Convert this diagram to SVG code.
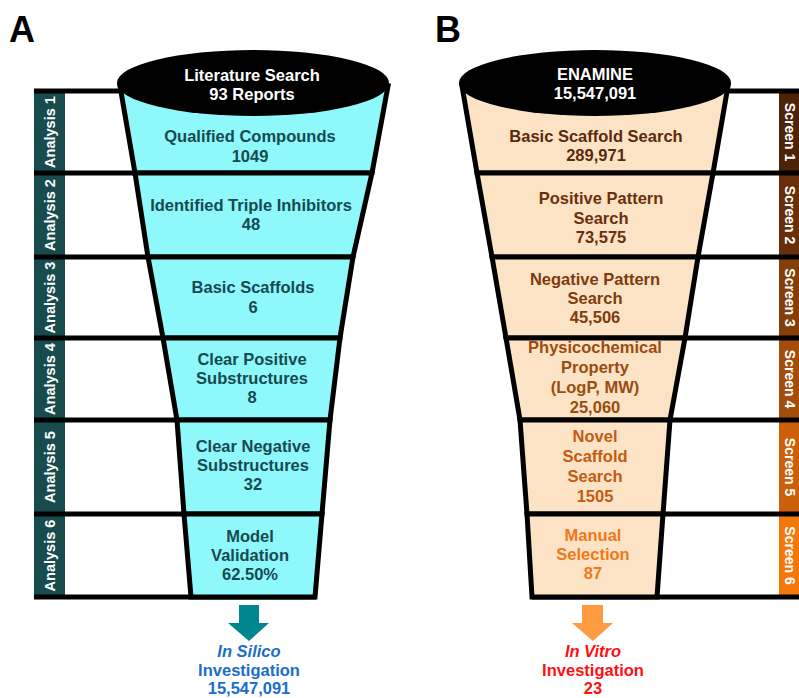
<svg xmlns="http://www.w3.org/2000/svg" width="799" height="698" viewBox="0 0 799 698">
<style>
text{font-family:"Liberation Sans",Arial,sans-serif;font-weight:bold;text-anchor:middle}
.t{font-size:16.5px}
.ta{fill:#174a50}
.big{font-size:36px;fill:#000;text-anchor:start}
.lbl{font-size:14.5px;fill:#fff}
.scr{font-size:14px;fill:#fff}
.hd{font-size:16.5px;fill:#fff}
.fa{fill:#8ef8fb;stroke:#000;stroke-width:5;stroke-linejoin:miter}
.fb{fill:#fde3c6;stroke:#000;stroke-width:5;stroke-linejoin:miter}
.ln{stroke:#000;stroke-width:5;fill:none}
</style>
<rect width="799" height="698" fill="#fff"/>
<text class="big" x="9" y="42">A</text>
<text class="big" x="435" y="42">B</text>

<!-- Panel A frame -->
<g id="frameA">
<rect x="34" y="91" width="31" height="506" fill="#184b4d"/>
<line class="ln" x1="34" y1="91" x2="122" y2="91"/>
<line class="ln" x1="34" y1="173" x2="372" y2="173"/>
<line class="ln" x1="34" y1="257" x2="353" y2="257"/>
<line class="ln" x1="34" y1="338" x2="340" y2="338"/>
<line class="ln" x1="34" y1="420" x2="330" y2="420"/>
<line class="ln" x1="34" y1="514" x2="322" y2="514"/>
<line class="ln" x1="34" y1="597" x2="316" y2="597"/>
</g>
<g id="analysis1"><text class="lbl" transform="translate(50,132) rotate(-90)" dy="5">Analysis 1</text></g>
<g id="analysis2"><text class="lbl" transform="translate(50,215) rotate(-90)" dy="5">Analysis 2</text></g>
<g id="analysis3"><text class="lbl" transform="translate(50,297.5) rotate(-90)" dy="5">Analysis 3</text></g>
<g id="analysis4"><text class="lbl" transform="translate(50,379) rotate(-90)" dy="5">Analysis 4</text></g>
<g id="analysis5"><text class="lbl" transform="translate(50,467) rotate(-90)" dy="5">Analysis 5</text></g>
<g id="analysis6"><text class="lbl" transform="translate(50,555.5) rotate(-90)" dy="5">Analysis 6</text></g>

<g id="a1"><polygon class="fa" points="120,86 388,86 372,173 135,173"/>
<text class="t ta" x="250" y="142">Qualified Compounds</text><text class="t ta" x="250" y="162">1049</text></g>
<g id="a2"><polygon class="fa" points="135,173 372,173 353,257 148,257"/>
<text class="t ta" x="251" y="211">Identified Triple Inhibitors</text><text class="t ta" x="251" y="230">48</text></g>
<g id="a3"><polygon class="fa" points="148,257 353,257 340,338 163,338"/>
<text class="t ta" x="253" y="293">Basic Scaffolds</text><text class="t ta" x="253" y="313">6</text></g>
<g id="a4"><polygon class="fa" points="163,338 340,338 330,420 177,420"/>
<text class="t ta" x="252" y="365">Clear Positive</text><text class="t ta" x="252" y="384">Substructures</text><text class="t ta" x="252" y="403">8</text></g>
<g id="a5"><polygon class="fa" points="177,420 330,420 322,514 184,514"/>
<text class="t ta" x="253" y="452">Clear Negative</text><text class="t ta" x="253" y="471">Substructures</text><text class="t ta" x="253" y="490">32</text></g>
<g id="a6"><polygon class="fa" points="184,514 322,514 315,597 191,597"/>
<text class="t ta" x="250" y="542">Model</text><text class="t ta" x="250" y="561">Validation</text><text class="t ta" x="250" y="580">62.50%</text></g>
<g id="a0"><ellipse cx="253" cy="83" rx="136" ry="33" fill="#000"/>
<text class="hd" x="252" y="81">Literature Search</text><text class="hd" x="252" y="100">93 Reports</text></g>

<!-- Panel B frame -->
<g id="frameB">
<rect x="779" y="91" width="20" height="82" fill="#4c2208"/>
<rect x="779" y="173" width="20" height="84" fill="#68300a"/>
<rect x="779" y="257" width="20" height="81" fill="#853e0a"/>
<rect x="779" y="338" width="20" height="82" fill="#a44c0a"/>
<rect x="779" y="420" width="20" height="94" fill="#cc5f0a"/>
<rect x="779" y="514" width="20" height="83" fill="#f3780c"/>
<line class="ln" x1="727" y1="91" x2="799" y2="91"/>
<line class="ln" x1="477" y1="173" x2="799" y2="173"/>
<line class="ln" x1="492" y1="257" x2="799" y2="257"/>
<line class="ln" x1="506" y1="338" x2="799" y2="338"/>
<line class="ln" x1="520" y1="420" x2="799" y2="420"/>
<line class="ln" x1="527" y1="514" x2="799" y2="514"/>
<line class="ln" x1="532" y1="597" x2="799" y2="597"/>
</g>
<g id="screen1"><text class="scr" transform="translate(790,132) rotate(90)" dy="5">Screen 1</text></g>
<g id="screen2"><text class="scr" transform="translate(790,215) rotate(90)" dy="5">Screen 2</text></g>
<g id="screen3"><text class="scr" transform="translate(790,297.5) rotate(90)" dy="5">Screen 3</text></g>
<g id="screen4"><text class="scr" transform="translate(790,379) rotate(90)" dy="5">Screen 4</text></g>
<g id="screen5"><text class="scr" transform="translate(790,467) rotate(90)" dy="5">Screen 5</text></g>
<g id="screen6"><text class="scr" transform="translate(790,555.5) rotate(90)" dy="5">Screen 6</text></g>

<g id="b1"><polygon class="fb" points="462,86 728,86 713,173 477,173"/>
<text class="t" fill="#5a2a0c" x="596" y="142">Basic Scaffold Search</text><text class="t" fill="#5a2a0c" x="596" y="161">289,971</text></g>
<g id="b2"><polygon class="fb" points="477,173 713,173 698,257 492,257"/>
<text class="t" fill="#6a300c" x="601" y="204">Positive Pattern</text><text class="t" fill="#6a300c" x="601" y="224">Search</text><text class="t" fill="#6a300c" x="601" y="243">73,575</text></g>
<g id="b3"><polygon class="fb" points="492,257 698,257 685,338 506,338"/>
<text class="t" fill="#7e3c0e" x="595" y="285">Negative Pattern</text><text class="t" fill="#7e3c0e" x="595" y="304">Search</text><text class="t" fill="#7e3c0e" x="595" y="323">45,506</text></g>
<g id="b4"><polygon class="fb" points="506,338 685,338 670,420 520,420"/>
<text class="t" fill="#9a4c10" x="595" y="353">Physicochemical</text><text class="t" fill="#9a4c10" x="595" y="373">Property</text><text class="t" fill="#9a4c10" x="595" y="393">(LogP, MW)</text><text class="t" fill="#9a4c10" x="595" y="413">25,060</text></g>
<g id="b5"><polygon class="fb" points="520,420 670,420 663,514 527,514"/>
<text class="t" fill="#c25c12" x="595" y="442">Novel</text><text class="t" fill="#c25c12" x="595" y="462">Scaffold</text><text class="t" fill="#c25c12" x="595" y="482">Search</text><text class="t" fill="#c25c12" x="595" y="502">1505</text></g>
<g id="b6"><polygon class="fb" points="527,514 663,514 657,597 532,597"/>
<text class="t" fill="#f07818" x="593" y="541">Manual</text><text class="t" fill="#f07818" x="593" y="560">Selection</text><text class="t" fill="#f07818" x="593" y="579">87</text></g>
<g id="b0"><ellipse cx="595" cy="83" rx="136" ry="33" fill="#000"/>
<text class="hd" x="595" y="80">ENAMINE</text><text class="hd" x="595" y="99">15,547,091</text></g>

<g id="connectors">
<path d="M239,605 H259 V623 H269 L249,641 L228,623 H239 Z" fill="#00868e"/>
<path d="M582,605 H603 V623 H613 L593,641 L572,623 H582 Z" fill="#fe9a40"/>
</g>
<g id="outA">
<text class="t" fill="#1c6ec6" x="249" y="657" font-style="italic">In Silico</text>
<text class="t" fill="#1c6ec6" x="249" y="676">Investigation</text>
<text class="t" fill="#1c6ec6" x="249" y="694">15,547,091</text>
</g>
<g id="outB">
<text class="t" fill="#ff1010" x="593" y="657" font-style="italic">In Vitro</text>
<text class="t" fill="#ff1010" x="593" y="676">Investigation</text>
<text class="t" fill="#ff1010" x="593" y="694">23</text>
</g>
</svg>
